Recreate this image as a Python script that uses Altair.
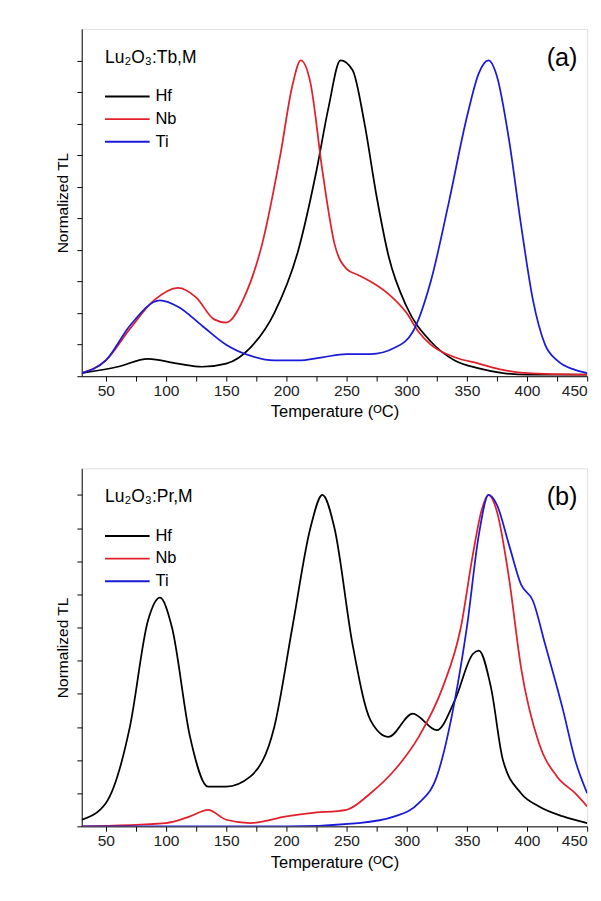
import altair as alt
import pandas as pd

# panel (a): Lu2O3:Tb,M
a_hf_t = [30, 60, 85, 110, 130, 150, 170, 190, 210, 225, 235, 245, 255, 265, 275, 285, 300, 320, 340, 360, 380, 400, 450]
a_hf_v = [0.01, 0.03, 0.055, 0.04, 0.03, 0.04, 0.09, 0.2, 0.4, 0.65, 0.85, 1.0, 0.97, 0.8, 0.57, 0.38, 0.22, 0.11, 0.05, 0.025, 0.01, 0.005, 0.005]
a_nb_t = [30, 50, 70, 90, 110, 125, 140, 150, 165, 180, 195, 205, 212, 220, 230, 240, 250, 260, 270, 285, 300, 310, 320, 340, 360, 380, 400, 450]
a_nb_v = [0.01, 0.05, 0.15, 0.24, 0.28, 0.25, 0.18, 0.17, 0.25, 0.42, 0.7, 0.92, 1.0, 0.93, 0.65, 0.42, 0.34, 0.32, 0.3, 0.26, 0.2, 0.14, 0.1, 0.06, 0.04, 0.02, 0.01, 0.005]
a_ti_t = [30, 50, 70, 95, 110, 130, 150, 170, 190, 210, 230, 250, 270, 290, 305, 320, 335, 350, 360, 368, 375, 385, 395, 405, 415, 425, 440, 450]
a_ti_v = [0.01, 0.05, 0.16, 0.24, 0.22, 0.16, 0.1, 0.065, 0.05, 0.05, 0.06, 0.07, 0.07, 0.09, 0.14, 0.3, 0.55, 0.82, 0.96, 1.0, 0.95, 0.75, 0.48, 0.24, 0.1, 0.05, 0.02, 0.01]

# panel (b): Lu2O3:Pr,M
b_hf_t = [30, 50, 70, 85, 95, 105, 120, 135, 150, 170, 190, 205, 220, 230, 240, 255, 270, 285, 305, 325, 340, 355, 360, 370, 380, 395, 410, 430, 450]
b_hf_v = [0.02, 0.07, 0.3, 0.62, 0.69, 0.6, 0.27, 0.12, 0.12, 0.15, 0.3, 0.6, 0.9, 1.0, 0.9, 0.55, 0.32, 0.27, 0.34, 0.29, 0.38, 0.52, 0.53, 0.42, 0.2, 0.1, 0.06, 0.03, 0.01]
b_nb_t = [30, 100, 120, 135, 150, 170, 200, 220, 250, 270, 290, 310, 330, 345, 355, 362, 368, 375, 385, 395, 410, 425, 440, 450]
b_nb_v = [0.0, 0.01, 0.03, 0.05, 0.02, 0.01, 0.03, 0.04, 0.05, 0.1, 0.17, 0.27, 0.42, 0.6, 0.82, 0.95, 1.0, 0.95, 0.75, 0.48, 0.25, 0.15, 0.1, 0.06]
b_ti_t = [30, 200, 260, 290, 310, 325, 340, 350, 360, 368, 375, 385, 395, 405, 415, 430, 440, 450]
b_ti_v = [0.0, 0.0, 0.01, 0.03, 0.07, 0.15, 0.38, 0.6, 0.88, 1.0, 0.97, 0.85, 0.73, 0.68, 0.55, 0.35, 0.2, 0.1]

series = ['Hf', 'Nb', 'Ti']
colors = ['#000000', '#e0202a', '#1a1ad8']
FONT = 'Liberation Sans'


def frame(parts):
    rows = []
    for name, (ts, vs) in zip(series, parts):
        rows += [{'T': t, 'v': v, 's': name} for t, v in zip(ts, vs)]
    return pd.DataFrame(rows)


def panel(df, title, tag, ymax, h):
    xaxis = alt.Axis(values=list(range(50, 451, 25)), labelExpr="datum.value % 50 == 0 ? datum.label : ''",
                     title='Temperature (\u1d3cC)', titleFontSize=17, labelFontSize=16, titleFont=FONT,
                     titleFontWeight='normal', labelFont=FONT, tickColor='black', domainColor='black',
                     labelColor='#222', grid=False, tickSize=5, titlePadding=6)
    yaxis = alt.Axis(values=[i / 10 for i in range(0, 11)], labels=False, title='Normalized TL',
                     titleFontSize=16, titleFont=FONT, titleFontWeight='normal', tickColor='black',
                     domainColor='black', grid=False, tickSize=5, titlePadding=6)
    lines = alt.Chart(df).mark_line(strokeWidth=1.8, interpolate='monotone', clip=True).encode(
        x=alt.X('T:Q', scale=alt.Scale(domain=[30, 450], nice=False), axis=xaxis),
        y=alt.Y('v:Q', scale=alt.Scale(domain=[0, ymax], nice=False), axis=yaxis),
        color=alt.Color('s:N', scale=alt.Scale(domain=series, range=colors), legend=None),
        detail='s:N'
    )
    leg = pd.DataFrame({'s': series, 'i': [0, 1, 2]})
    keys = alt.Chart(leg).mark_rule(strokeWidth=2).encode(
        x=alt.value(24), x2=alt.value(70),
        y=alt.Y('i:O', scale=alt.Scale(range=[58, 128]), axis=None),
        color=alt.Color('s:N', scale=alt.Scale(domain=series, range=colors), legend=None)
    )
    labels = alt.Chart(leg).mark_text(align='left', baseline='middle', fontSize=17, font=FONT).encode(
        x=alt.value(76),
        y=alt.Y('i:O', scale=alt.Scale(range=[58, 128]), axis=None),
        text='s:N'
    )
    head = alt.Chart(pd.DataFrame({'t': [title]})).mark_text(
        align='left', baseline='middle', fontSize=18, font=FONT).encode(
        x=alt.value(24), y=alt.value(30), text='t:N')
    lab = alt.Chart(pd.DataFrame({'t': [tag]})).mark_text(
        align='right', baseline='middle', fontSize=26, font=FONT).encode(
        x=alt.value(511), y=alt.value(30), text='t:N')
    return alt.layer(lines, keys, labels, head, lab).resolve_scale(y='independent').properties(width=521, height=h)


top = panel(frame([(a_hf_t, a_hf_v), (a_nb_t, a_nb_v), (a_ti_t, a_ti_v)]), 'Lu\u2082O\u2083:Tb,M', '(a)', 1.1, 358)
bottom = panel(frame([(b_hf_t, b_hf_v), (b_nb_t, b_nb_v), (b_ti_t, b_ti_v)]), 'Lu\u2082O\u2083:Pr,M', '(b)', 1.08, 369)

chart = alt.vconcat(top, bottom, spacing=48).properties(
    padding={'left': 48, 'top': 7, 'right': 5, 'bottom': 5}
).configure_view(stroke='black', strokeWidth=1.5).configure(background='white')

chart.save('out.html', embed_options={'renderer': 'svg', 'actions': False})
